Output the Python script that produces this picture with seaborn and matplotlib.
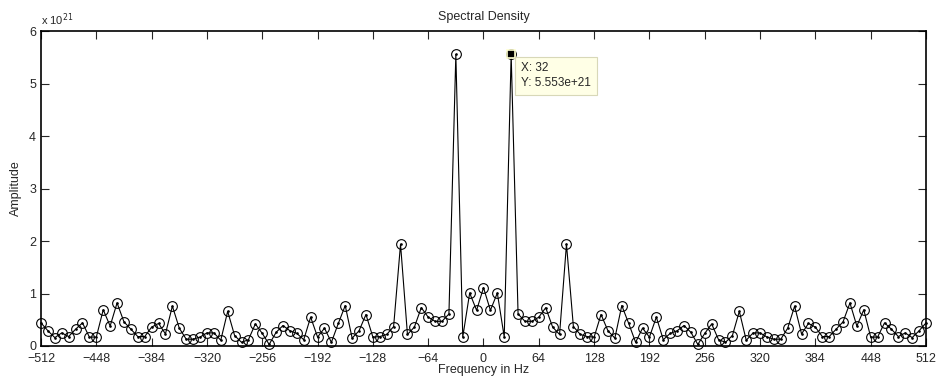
import numpy as np
import pandas as pd
import matplotlib
matplotlib.use("Agg")
import matplotlib.pyplot as plt
from matplotlib.ticker import FuncFormatter
import seaborn as sns

# Frequency bins (Hz), 8 Hz spacing
frequency = list(range(-512, 513, 8))

# Spectral amplitude at each bin, in units of 1e21
amplitude_e21 = [
    0.44, 0.29, 0.16, 0.25, 0.18, 0.32, 0.44, 0.17, 0.17, 0.69, 0.38, 0.82,
    0.46, 0.32, 0.18, 0.18, 0.36, 0.43, 0.23, 0.76, 0.34, 0.13, 0.13, 0.17,
    0.25, 0.25, 0.11, 0.66, 0.20, 0.07, 0.12, 0.42, 0.24, 0.03, 0.26, 0.39,
    0.29, 0.24, 0.12, 0.55, 0.17, 0.34, 0.07, 0.43, 0.77, 0.15, 0.29, 0.60,
    0.17, 0.18, 0.22, 0.37, 1.94, 0.22, 0.36, 0.73, 0.55, 0.47, 0.47, 0.61,
    5.553, 0.17, 1.01, 0.68, 1.11, 0.68, 1.01, 0.17, 5.553, 0.61, 0.47, 0.47,
    0.55, 0.73, 0.36, 0.22, 1.94, 0.37, 0.22, 0.18, 0.17, 0.60, 0.29, 0.15,
    0.77, 0.43, 0.07, 0.34, 0.17, 0.55, 0.12, 0.24, 0.29, 0.39, 0.26, 0.03,
    0.24, 0.42, 0.12, 0.07, 0.20, 0.66, 0.11, 0.25, 0.25, 0.17, 0.13, 0.13,
    0.34, 0.76, 0.23, 0.43, 0.36, 0.18, 0.18, 0.32, 0.46, 0.82, 0.38, 0.69,
    0.17, 0.17, 0.44, 0.32, 0.18, 0.25, 0.16, 0.29, 0.44,
]

x_ticks = list(range(-512, 513, 64))
y_ticks = [0, 1, 2, 3, 4, 5, 6]
SCALE = 1e21

# Data tip location
tip_x = 32

df = pd.DataFrame({"freq": frequency,
                   "amp": np.array(amplitude_e21) * SCALE})

sns.set_style("ticks")
plt.rcParams["font.family"] = ["Liberation Sans", "DejaVu Sans"]
plt.rcParams["axes.linewidth"] = 1.2

fig = plt.figure(figsize=(9.36, 3.8), dpi=100)
ax = fig.add_axes([41 / 936, 1 - 346 / 380, (926 - 41) / 936, (346 - 31) / 380])

sns.lineplot(data=df, x="freq", y="amp", ax=ax, color="black", linewidth=0.8,
             marker="o", markersize=7, markerfacecolor="none",
             markeredgecolor="black", markeredgewidth=0.8, sort=True,
             estimator=None, clip_on=False)
# small vertex dots inside the circles
ax.plot(df["freq"], df["amp"], linestyle="none", marker="o", markersize=0.9,
        color="black", clip_on=False)

ax.set_xlim(-512, 512)
ax.set_ylim(0, 6 * SCALE)
ax.set_xticks(x_ticks)
ax.set_yticks([v * SCALE for v in y_ticks])
ax.xaxis.set_major_formatter(FuncFormatter(lambda v, p: f"{int(v)}".replace("-", "\u2212")))
ax.yaxis.set_major_formatter(FuncFormatter(lambda v, p: f"{v / SCALE:g}"))
ax.tick_params(direction="in", length=5.5, width=0.8, labelsize=9,
               top=True, right=True)
ax.tick_params(axis="x", pad=5)
ax.tick_params(axis="y", pad=3.5)
for s in ax.spines.values():
    s.set_visible(True)
    s.set_color("black")

ax.set_title("Spectral Density", fontsize=9, pad=8)
ax.set_xlabel("Frequency in Hz", fontsize=9, labelpad=-1)
ax.set_ylabel("Amplitude", fontsize=9, labelpad=5)
ax.text(0.0, 1.01, r"x 10$^{21}$", transform=ax.transAxes, fontsize=8,
        ha="left", va="bottom")

# data tip at the +32 Hz peak
tip_y = df.loc[df["freq"] == tip_x, "amp"].iloc[0]
ax.plot([tip_x], [tip_y], marker="s", markersize=6, color="black",
        markeredgecolor="#ffffd0", markeredgewidth=1.2, linestyle="none",
        zorder=5, clip_on=False)
ax.annotate(f"X: {tip_x}\nY: {tip_y:.3e}", xy=(tip_x, tip_y),
            xytext=(10, -8), textcoords="offset pixels", ha="left", va="top",
            fontsize=8.5, linespacing=1.3,
            bbox=dict(boxstyle="square,pad=0.5", facecolor="#ffffe6",
                      edgecolor="#d8d8b8", linewidth=0.8), zorder=6)

fig.savefig("out.png", dpi=100)
